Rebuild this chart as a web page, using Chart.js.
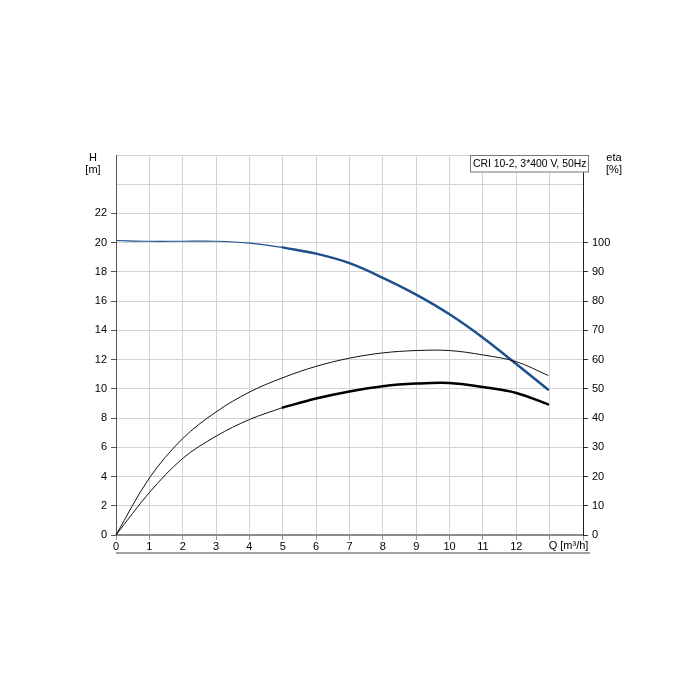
<!DOCTYPE html>
<html>
<head>
<meta charset="utf-8">
<script src="https://cdn.jsdelivr.net/npm/chart.js@4.4.1/dist/chart.umd.min.js"></script>
<style>
  body { margin: 0; background: #fff; }
  #wrap { width: 700px; height: 700px; }
</style>
</head>
<body>
<div id="wrap"><canvas id="pumpChart" width="700" height="700"></canvas></div>
<script>
// flow points (m3/h)
const flowQ = [0, 1, 2, 3, 4, 5, 6, 7, 8, 9, 10, 11, 12, 12.95];
// head H [m]
const headH = [20.15, 20.1, 20.1, 20.1, 19.97, 19.68, 19.25, 18.6, 17.6, 16.45, 15.1, 13.5, 11.7, 9.95];
// efficiency curves eta [%]
const etaUpper = [0, 19.5, 33, 42.1, 48.9, 53.8, 57.7, 60.5, 62.3, 63.1, 63.1, 61.6, 59.3, 54.6];
const etaLower = [0, 14.5, 26.2, 33.8, 39.5, 43.6, 46.7, 49.1, 50.9, 51.8, 52, 50.6, 48.6, 44.7];
const xTicks = [0, 1, 2, 3, 4, 5, 6, 7, 8, 9, 10, 11, 12];
const legendText = 'CRI 10-2, 3*400 V, 50Hz';

const opStart = 5; // thick (operating) part starts here

const pts = (ys, from, to) => flowQ
    .map((q, i) => ({ x: q, y: ys[i] }))
    .filter(p => p.x >= from && p.x <= to);

const FONT = { family: 'Arial, "Liberation Sans", sans-serif', size: 11 };
const BLUE = '#1d4f8d';

const extras = {
    id: 'extras',
    afterDraw(chart) {
        const { ctx, chartArea: a } = chart;
        const xs = chart.scales.x;
        ctx.save();
        ctx.font = '11px Arial, "Liberation Sans", sans-serif';
        ctx.fillStyle = '#000';
        ctx.textBaseline = 'middle';
        ctx.textAlign = 'center';
        ctx.fillText('H', 93, 158);
        ctx.fillText('[m]', 93, 170);
        ctx.fillText('eta', 614, 158);
        ctx.fillText('[%]', 614, 170);
        ctx.textAlign = 'left';
        ctx.fillText('Q [m³/h]', xs.getPixelForValue(13) - 1, a.bottom + 11);

        // legend box
        ctx.fillStyle = '#fff';
        ctx.fillRect(470, a.top, 118, 17);
        ctx.strokeStyle = '#777';
        ctx.lineWidth = 1;
        ctx.strokeRect(470.5, a.top + 0.5, 118, 16.5);
        ctx.fillStyle = '#000';
        ctx.font = '10.4px Arial, "Liberation Sans", sans-serif';
        ctx.fillText(legendText, 473, a.top + 9);

        // underline below the axis
        ctx.strokeStyle = '#a0a0a0';
        ctx.lineWidth = 2;
        ctx.beginPath();
        ctx.moveTo(a.left, 553);
        ctx.lineTo(590, 553);
        ctx.stroke();
        ctx.restore();
    }
};

new Chart(document.getElementById('pumpChart').getContext('2d'), {
    type: 'line',
    data: {
        datasets: [
            { data: pts(etaUpper, 0, 13), yAxisID: 'y2', borderColor: '#111', borderWidth: 1 },
            { data: pts(etaLower, 0, opStart), yAxisID: 'y2', borderColor: '#111', borderWidth: 1 },
            { data: pts(etaLower, opStart, 13), yAxisID: 'y2', borderColor: '#000', borderWidth: 2.5 },
            { data: pts(headH, 0, opStart), yAxisID: 'y', borderColor: BLUE, borderWidth: 1.2 },
            { data: pts(headH, opStart, 13), yAxisID: 'y', borderColor: BLUE, borderWidth: 2.5 }
        ]
    },
    options: {
        responsive: false,
        animation: false,
        layout: { padding: { top: 155, left: 0, right: 0, bottom: 0 } },
        elements: {
            point: { radius: 0 },
            line: { tension: 0.35, fill: false, borderCapStyle: 'round', borderJoinStyle: 'round' }
        },
        plugins: { legend: { display: false }, tooltip: { enabled: false } },
        scales: {
            x: {
                type: 'linear', min: 0, max: 14,
                afterFit: s => { s.height = 165; },
                afterBuildTicks: s => { s.ticks = Array.from({ length: 15 }, (_, i) => ({ value: i })); },
                grid: { color: '#d3d3d3', tickLength: 5, tickColor: '#999' },
                border: { color: '#8c8c8c', width: 2 },
                ticks: {
                    color: '#000', font: FONT, padding: 0, maxRotation: 0,
                    callback: v => xTicks.includes(v) ? String(v) : ''
                }
            },
            y: {
                position: 'left', min: 0, max: 26,
                afterFit: s => { s.width = 116; },
                grid: {
                    color: '#d3d3d3', tickLength: 5,
                    tickColor: c => c.tick && c.tick.value <= 22 ? '#555' : 'rgba(0,0,0,0)'
                },
                border: { color: '#555', width: 1 },
                ticks: {
                    color: '#000', font: FONT, stepSize: 2, padding: 4,
                    callback: v => v <= 22 ? String(v) : ''
                }
            },
            y2: {
                position: 'right', min: 0, max: 130,
                afterFit: s => { s.width = 117; },
                grid: {
                    drawOnChartArea: false, tickLength: 5,
                    tickColor: c => c.tick && c.tick.value <= 100 ? '#333' : 'rgba(0,0,0,0)'
                },
                border: { color: '#222', width: 1 },
                ticks: {
                    color: '#000', font: FONT, stepSize: 10, padding: 4,
                    callback: v => v <= 100 ? String(v) : ''
                }
            }
        }
    },
    plugins: [extras]
});
</script>
</body>
</html>
